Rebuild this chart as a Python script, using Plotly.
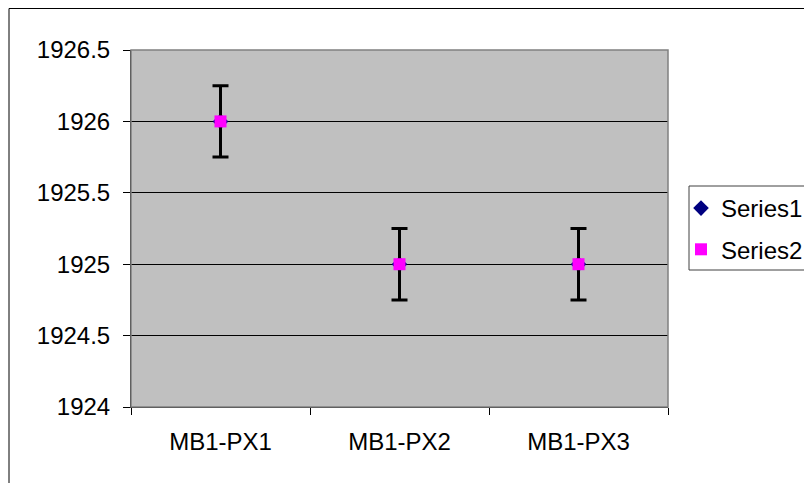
import plotly.graph_objects as go

categories = ["MB1-PX1", "MB1-PX2", "MB1-PX3"]
series1 = [1926, 1925, 1925]
series2 = [1926, 1925, 1925]
error2 = [0.25, 0.25, 0.25]
y_ticks = [1924, 1924.5, 1925, 1925.5, 1926, 1926.5]

# page has an 8px body margin, so the figure is drawn 8px in from the window
W, H = 804, 475
L, R, T, B = 123, 144, 42, 76
pw, ph = W - L - R, H - T - B


def px(x):
    return (x - L) / pw


def py(y):
    return (H - B - y) / ph


fig = go.Figure()
fig.add_trace(go.Scatter(
    x=categories, y=series1, mode="markers", name="Series1", legendgroup="s1",
    marker=dict(symbol="diamond", color="#000080", size=12),
))
fig.add_trace(go.Scatter(
    x=categories, y=series2, mode="markers", name="Series2", legendgroup="s2",
    marker=dict(symbol="square", color="#FF00FF", size=12),
    error_y=dict(type="data", array=error2, visible=True, color="black", thickness=3, width=8),
))

font = dict(family="Liberation Sans, Arial, sans-serif", size=24, color="black")

fig.update_layout(
    width=W, height=H,
    margin=dict(l=L, r=R, t=T, b=B, pad=0, autoexpand=False),
    paper_bgcolor="white", plot_bgcolor="#C0C0C0",
    font=font,
    showlegend=True,
    legend=dict(
        x=px(673), y=py(178), xanchor="left", yanchor="top",
        bgcolor="rgba(0,0,0,0)", borderwidth=0,
        font=font, traceorder="grouped", tracegroupgap=7,
        itemsizing="constant",
    ),
    xaxis=dict(
        type="category", range=[-0.5, 2.5], showgrid=False,
        tickson="boundaries", ticks="outside", ticklen=7, tickcolor="black",
        showline=True, linecolor="black", linewidth=1, mirror=False,
        zeroline=False, tickfont=font, ticklabelstandoff=13, automargin=False,
    ),
    yaxis=dict(
        range=[1924, 1926.5], tickvals=y_ticks,
        ticktext=[("%g" % v) for v in y_ticks],
        showgrid=True, gridcolor="black", gridwidth=1,
        ticks="outside", ticklen=7, tickcolor="black",
        showline=True, linecolor="black", linewidth=1,
        zeroline=False, tickfont=font, ticklabelstandoff=8, automargin=False,
    ),
    shapes=[
        dict(type="rect", xref="paper", yref="paper",
             x0=0, x1=1, y0=0, y1=1, line=dict(color="#808080", width=1.5), layer="above"),
        dict(type="rect", xref="paper", yref="paper",
             x0=px(1), x1=px(830), y0=py(500), y1=py(0.5),
             line=dict(color="black", width=1)),
        dict(type="rect", xref="paper", yref="paper",
             x0=px(681), x1=px(830), y0=py(262), y1=py(178),
             fillcolor="white", line=dict(color="#404040", width=1), layer="above"),
    ],
)
fig.write_html("out.html")
